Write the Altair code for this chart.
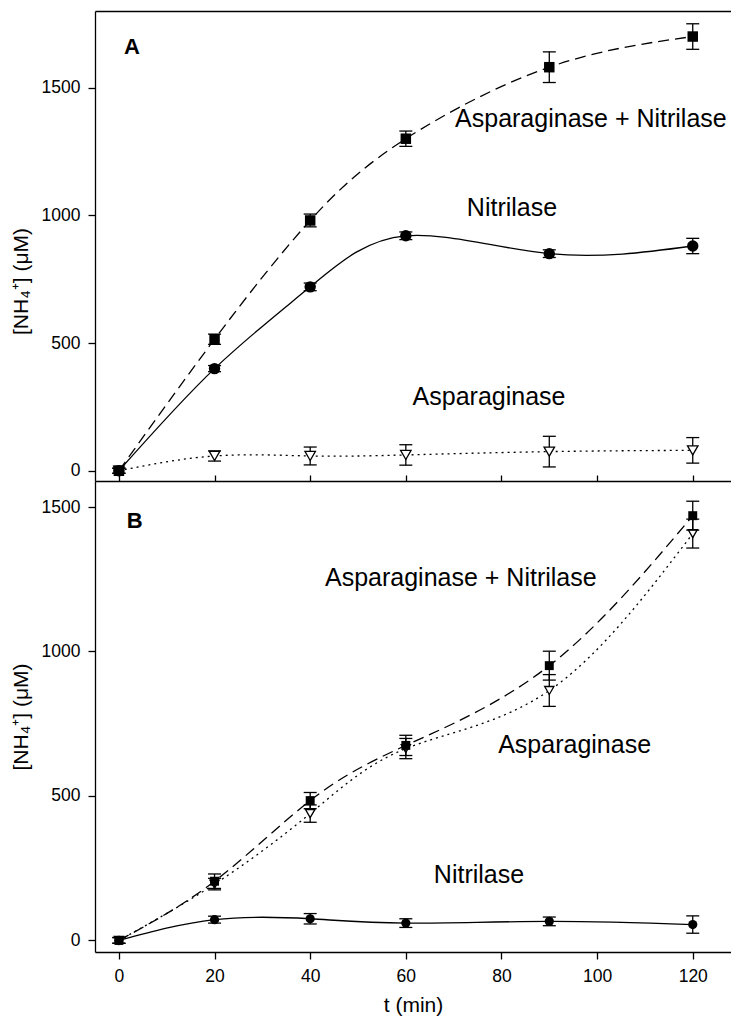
import altair as alt
import pandas as pd

# ---- data ----
t = [0, 20, 40, 60, 90, 120]

# Panel A
a_both = [0, 515, 980, 1300, 1580, 1700]
a_both_err = [10, 20, 25, 30, 60, 50]
a_nit = [0, 400, 720, 920, 850, 880]
a_nit_err = [10, 12, 15, 15, 15, 30]
a_asp = [0, 58, 58, 62, 75, 80]
a_asp_err = [10, 20, 35, 40, 60, 50]

# Panel B
b_both = [0, 205, 484, 675, 951, 1470]
b_both_err = [10, 25, 28, 35, 50, 50]
b_nit = [0, 72, 75, 60, 66, 55]
b_nit_err = [10, 12, 18, 15, 15, 30]
b_asp = [0, 195, 439, 664, 865, 1408]
b_asp_err = [10, 20, 30, 35, 55, 50]

# annotations (data coordinates)
a_labels = ["Asparaginase + Nitrilase", "Nitrilase", "Asparaginase"]
a_label_t = [98.7, 82.2, 77.4]
a_label_v = [1379, 1029, 287]
b_labels = ["Asparaginase + Nitrilase", "Asparaginase", "Nitrilase"]
b_label_t = [71.5, 95.3, 75.3]
b_label_v = [1254, 678, 225]
panel_letters = ["A", "B"]
letter_t = [2.7, 3.3]
letter_v = [1660, 1450]

x_ticks = [0, 20, 40, 60, 80, 100, 120]
y_ticks = [0, 500, 1000, 1500]

FONT = "Liberation Sans"
YTITLE = "[NH\u2084\u207a] (\u03bcM)"
W = 636


def sdf(vals, errs):
    return pd.DataFrame({
        "t": t,
        "v": vals,
        "lo": [v - e for v, e in zip(vals, errs)],
        "hi": [v + e for v, e in zip(vals, errs)],
    })


def series_layers(df, X, Y, Ylo, Yhi, dash, shape, size, open_marker=False):
    base = alt.Chart(df)
    line_kw = dict(interpolate="natural", color="black", strokeWidth=1.3)
    if dash:
        line_kw["strokeDash"] = dash
    line = base.mark_line(**line_kw).encode(x=X, y=Y)
    rule = base.mark_rule(color="black", strokeWidth=1.3).encode(
        x=X, y=Ylo, y2=alt.Y2("hi:Q"))
    cap_lo = base.mark_tick(orient="horizontal", size=13, thickness=1.3,
                            color="black", opacity=1).encode(x=X, y=Ylo)
    cap_hi = base.mark_tick(orient="horizontal", size=13, thickness=1.3,
                            color="black", opacity=1).encode(x=X, y=Yhi)
    if open_marker:
        pt = base.mark_point(shape=shape, filled=True, fill="white",
                             stroke="black", strokeWidth=1.3, size=size,
                             opacity=1).encode(x=X, y=Y)
    else:
        pt = base.mark_point(shape=shape, filled=True, color="black",
                             size=size, opacity=1).encode(x=X, y=Y)
    return [line, rule, cap_lo, cap_hi, pt]


def yaxis(title_y=None):
    kw = dict(values=y_ticks, format="d", title=YTITLE, titlePadding=10,
              grid=False)
    if title_y is not None:
        kw["titleY"] = title_y
    return alt.Axis(**kw)


# ---------------- Panel A ----------------
xs = alt.Scale(domain=[-5, 128], nice=False, zero=False)
ysA = alt.Scale(domain=[-40, 1800], nice=False, zero=False)
XA = alt.X("t:Q", scale=xs, axis=alt.Axis(orient="top", ticks=False,
                                          labels=False, title=None,
                                          grid=False, values=x_ticks))
YA = alt.Y("v:Q", scale=ysA, axis=yaxis(270))
YAlo = alt.Y("lo:Q", scale=ysA, axis=yaxis(270))
YAhi = alt.Y("hi:Q", scale=ysA, axis=yaxis(270))

layersA = []
layersA += series_layers(sdf(a_asp, a_asp_err), XA, YA, YAlo, YAhi,
                         [2, 4], "triangle-down", 110, open_marker=True)
layersA += series_layers(sdf(a_nit, a_nit_err), XA, YA, YAlo, YAhi,
                         None, "circle", 130)
layersA += series_layers(sdf(a_both, a_both_err), XA, YA, YAlo, YAhi,
                         [11, 6], "square", 110)

txtA = alt.Chart(pd.DataFrame({"t": a_label_t, "v": a_label_v,
                               "s": a_labels})).mark_text(
    font=FONT, fontSize=25, color="black").encode(x=XA, y=YA, text="s:N")
letA = alt.Chart(pd.DataFrame({"t": letter_t[:1], "v": letter_v[:1],
                               "s": panel_letters[:1]})).mark_text(
    font=FONT, fontSize=22, fontWeight="bold", color="black").encode(
    x=XA, y=YA, text="s:N")
layersA += [txtA, letA]

panelA = alt.layer(*layersA).properties(width=W, height=470)

# ---------------- Panel B ----------------
ysB = alt.Scale(domain=[-40, 1590], nice=False, zero=False)
XB_none = alt.X("t:Q", scale=xs, axis=None)
XB_bottom = alt.X("t:Q", scale=xs, axis=alt.Axis(
    orient="bottom", values=x_ticks, title="t (min)", titlePadding=10,
    grid=False))
XB_top = alt.X("t:Q", scale=xs, axis=alt.Axis(
    orient="top", values=x_ticks, labels=False, title=None, tickSize=6,
    grid=False))
YB = alt.Y("v:Q", scale=ysB, axis=yaxis())
YBlo = alt.Y("lo:Q", scale=ysB, axis=yaxis())
YBhi = alt.Y("hi:Q", scale=ysB, axis=yaxis())

layersB = []
layersB += series_layers(sdf(b_asp, b_asp_err), XB_none, YB, YBlo, YBhi,
                         [2, 4], "triangle-down", 85, open_marker=True)
layersB += series_layers(sdf(b_nit, b_nit_err), XB_none, YB, YBlo, YBhi,
                         None, "circle", 85)
layersB += series_layers(sdf(b_both, b_both_err), XB_none, YB, YBlo, YBhi,
                         [11, 6], "square", 80)

txtB = alt.Chart(pd.DataFrame({"t": b_label_t, "v": b_label_v,
                               "s": b_labels})).mark_text(
    font=FONT, fontSize=25, color="black").encode(x=XB_bottom, y=YB,
                                                  text="s:N")
letB = alt.Chart(pd.DataFrame({"t": letter_t[1:], "v": letter_v[1:],
                               "s": panel_letters[1:]})).mark_text(
    font=FONT, fontSize=22, fontWeight="bold", color="black").encode(
    x=XB_top, y=YB, text="s:N")
layersB += [txtB, letB]

panelB = alt.layer(*layersB).resolve_axis(x="independent").properties(
    width=W, height=471)

chart = alt.vconcat(panelA, panelB, spacing=0, bounds="flush").properties(
    padding={"left": 2, "top": 3, "right": 0, "bottom": 0},
    background="white"
).configure_view(stroke=None).configure_axis(
    labelFont=FONT, labelFontSize=17.5, labelColor="black",
    tickColor="black", domainColor="black", domainWidth=1.3,
    tickWidth=1.3, tickSize=7, labelPadding=8, grid=False,
    titleFont=FONT, titleFontSize=21, titleFontWeight="normal",
    titleColor="black"
)

chart.save("out.html", embed_options={"renderer": "svg", "actions": False})
